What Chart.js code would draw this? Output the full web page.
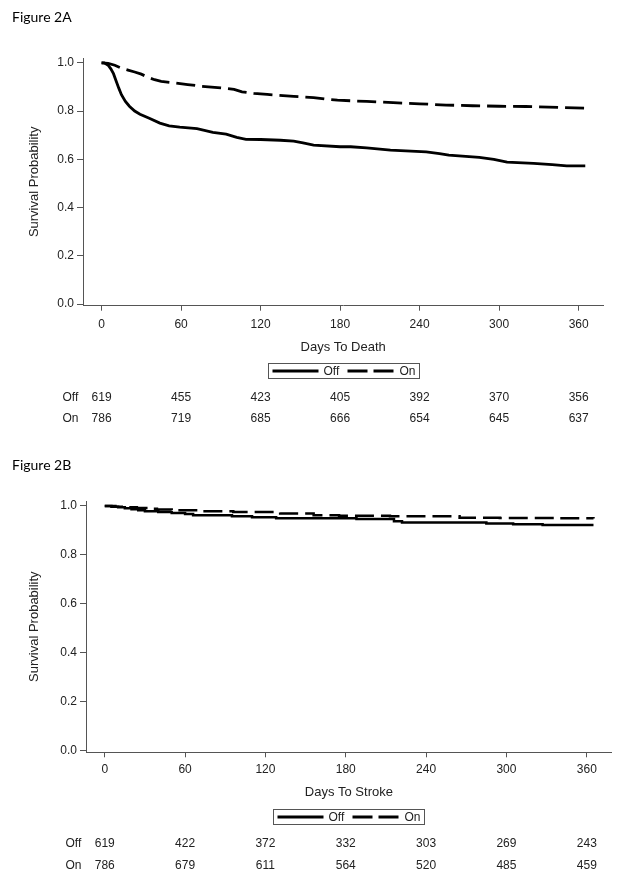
<!DOCTYPE html>
<html>
<head>
<meta charset="utf-8">
<script src="https://cdn.jsdelivr.net/npm/chart.js@4.4.0/dist/chart.umd.min.js"></script>
<style>
  body { margin: 0; background: #fff; }
  #page { position: relative; width: 624px; height: 882px; }
  canvas { position: absolute; left: 0; }
  .fig { position: absolute; left: 12px; font: 14px Lato, sans-serif; color: #000; line-height: 17px; }
</style>
</head>
<body>
<div id="page">
  <canvas id="chartA" width="624" height="441" style="top:0"></canvas>
  <canvas id="chartB" width="624" height="441" style="top:441px"></canvas>
  <div class="fig" style="top:8px">Figure 2A</div>
  <div class="fig" style="top:456px">Figure 2B</div>
</div>
<script>
const dayTicks = [0, 60, 120, 180, 240, 300, 360];
const survTicks = [0, 0.2, 0.4, 0.6, 0.8, 1.0];
const groupNames = ['Off', 'On'];

// Figure 2A - days to death
const deathOffDays = [0, 2, 5, 7, 9, 11, 13, 15, 18, 21, 25, 29, 36, 44, 51, 59, 72, 84, 94, 102, 109, 120, 135, 145, 152, 160, 180, 188, 200, 218, 245, 255, 262, 285, 296, 306, 326, 340, 351, 365];
const deathOffSurv = [1, 1, 0.99, 0.975, 0.955, 0.925, 0.895, 0.868, 0.84, 0.82, 0.80, 0.787, 0.77, 0.75, 0.739, 0.733, 0.727, 0.712, 0.704, 0.691, 0.683, 0.682, 0.679, 0.675, 0.668, 0.659, 0.652, 0.652, 0.647, 0.638, 0.631, 0.624, 0.617, 0.608, 0.60, 0.588, 0.583, 0.578, 0.573, 0.573];
const deathOnDays = [0, 5, 10, 15, 20, 25, 30, 35, 40, 45, 55, 65, 75, 90, 100, 106, 115, 125, 145, 160, 170, 178, 200, 220, 240, 260, 280, 300, 320, 345, 365];
const deathOnSurv = [1, 0.998, 0.99, 0.978, 0.97, 0.962, 0.953, 0.94, 0.93, 0.923, 0.917, 0.91, 0.903, 0.896, 0.89, 0.88, 0.873, 0.869, 0.861, 0.856, 0.849, 0.845, 0.84, 0.835, 0.83, 0.825, 0.822, 0.82, 0.819, 0.815, 0.812];
const deathAtRiskOff = [619, 455, 423, 405, 392, 370, 356];
const deathAtRiskOn = [786, 719, 685, 666, 654, 645, 637];

// Figure 2B - days to stroke
const strokeOffDays = [0, 5, 10, 15, 20, 25, 30, 40, 50, 60, 66, 95, 110, 128, 188, 216, 222, 285, 305, 327, 365];
const strokeOffSurv = [1, 0.997, 0.994, 0.99, 0.986, 0.982, 0.978, 0.975, 0.971, 0.967, 0.962, 0.958, 0.954, 0.95, 0.946, 0.937, 0.932, 0.928, 0.925, 0.922, 0.922];
const strokeOnDays = [0, 8, 16, 24, 32, 39, 50, 71, 96, 131, 156, 175, 213, 265, 295, 340, 365];
const strokeOnSurv = [1, 0.997, 0.994, 0.991, 0.988, 0.985, 0.982, 0.978, 0.975, 0.969, 0.962, 0.96, 0.958, 0.952, 0.951, 0.949, 0.948];
const strokeAtRiskOff = [619, 422, 372, 332, 303, 269, 243];
const strokeAtRiskOn = [786, 679, 611, 564, 520, 485, 459];

const FONT = '"Liberation Sans", Arial, sans-serif';
const AXIS_COLOR = '#555';
const TEXT_COLOR = '#222';

function toPoints(days, surv) {
    return days.map((d, i) => ({ x: d, y: surv[i] }));
}

// legend box + number-at-risk table under the x axis
const riskTable = {
    id: 'riskTable',
    afterDraw(chart, args, opts) {
        const ctx = chart.ctx;
        const area = chart.chartArea;
        const xs = chart.scales.x;
        ctx.save();

        // legend
        const cx = (area.left + area.right) / 2;
        const w = 151, h = 15;
        const left = Math.round(cx - w / 2) + 0.5;
        const top = Math.round(area.bottom + 57) + 0.5;
        ctx.strokeStyle = AXIS_COLOR;
        ctx.lineWidth = 1;
        ctx.strokeRect(left, top, w, h);

        const ly = top + h / 2;
        ctx.strokeStyle = '#000';
        ctx.lineWidth = 3;
        ctx.lineCap = 'butt';
        ctx.beginPath();
        ctx.moveTo(left + 4, ly);
        ctx.lineTo(left + 50, ly);
        ctx.stroke();
        ctx.setLineDash([20, 6]);
        ctx.beginPath();
        ctx.moveTo(left + 79, ly);
        ctx.lineTo(left + 125, ly);
        ctx.stroke();
        ctx.setLineDash([]);

        ctx.fillStyle = TEXT_COLOR;
        ctx.font = '12px ' + FONT;
        ctx.textBaseline = 'middle';
        ctx.textAlign = 'left';
        ctx.fillText(groupNames[0], left + 55, ly + 0.5);
        ctx.fillText(groupNames[1], left + 131, ly + 0.5);

        // number at risk
        const rows = [opts.off, opts.on];
        rows.forEach((vals, r) => {
            const y = area.bottom + opts.rowY[r];
            ctx.textAlign = 'left';
            ctx.fillText(groupNames[r], area.left - 20.5, y);
            ctx.textAlign = 'center';
            vals.forEach((v, i) => {
                ctx.fillText(String(v), xs.getPixelForValue(dayTicks[i]), y);
            });
        });
        ctx.restore();
    }
};

function makeChart(id, s) {
    const ctx = document.getElementById(id).getContext('2d');
    return new Chart(ctx, {
        type: 'line',
        data: {
            datasets: [
                {
                    label: groupNames[0],
                    data: toPoints(s.offDays, s.offSurv),
                    borderColor: '#000',
                    borderWidth: s.lineWidth,
                    stepped: s.stepped,
                    pointRadius: 0,
                    fill: false
                },
                {
                    label: groupNames[1],
                    data: toPoints(s.onDays, s.onSurv),
                    borderColor: '#000',
                    borderWidth: s.lineWidth,
                    borderDash: [19, 7],
                    stepped: s.stepped,
                    pointRadius: 0,
                    fill: false
                }
            ]
        },
        options: {
            responsive: false,
            animation: false,
            devicePixelRatio: 1,
            layout: { padding: s.padding },
            scales: {
                x: {
                    type: 'linear',
                    min: -14,
                    max: 378.6,
                    afterBuildTicks: sc => { sc.ticks = dayTicks.map(v => ({ value: v })); },
                    afterFit: sc => { sc.height = 54; },
                    border: { color: AXIS_COLOR, width: 1 },
                    grid: { drawOnChartArea: false, drawTicks: true, tickLength: 5, color: AXIS_COLOR },
                    ticks: {
                        color: TEXT_COLOR, font: { family: FONT, size: 12 },
                        padding: s.xTickPad, maxRotation: 0, autoSkip: false
                    },
                    title: {
                        display: true, text: s.xTitle, color: TEXT_COLOR,
                        font: { family: FONT, size: 13 },
                        padding: { top: 4, bottom: s.xTitlePad }
                    }
                },
                y: {
                    min: -0.007,
                    max: 1.02,
                    afterBuildTicks: sc => { sc.ticks = survTicks.map(v => ({ value: v })); },
                    afterFit: sc => { sc.width = s.yWidth; },
                    border: { color: AXIS_COLOR, width: 1 },
                    grid: { drawOnChartArea: false, drawTicks: true, tickLength: 6, color: AXIS_COLOR },
                    ticks: {
                        color: TEXT_COLOR, font: { family: FONT, size: 12 },
                        padding: 3, callback: v => Number(v).toFixed(1)
                    },
                    title: {
                        display: true, text: 'Survival Probability', color: TEXT_COLOR,
                        font: { family: FONT, size: 13 },
                        padding: { top: 27, bottom: 0 }
                    }
                }
            },
            plugins: {
                legend: { display: false },
                tooltip: { enabled: false },
                riskTable: { off: s.atRiskOff, on: s.atRiskOn, rowY: s.rowY }
            }
        },
        plugins: [riskTable]
    });
}

makeChart('chartA', {
    offDays: deathOffDays, offSurv: deathOffSurv,
    onDays: deathOnDays, onSurv: deathOnSurv,
    atRiskOff: deathAtRiskOff, atRiskOn: deathAtRiskOn,
    xTitle: 'Days To Death',
    stepped: false,
    lineWidth: 2.8,
    yWidth: 83,
    padding: { left: 0, right: 20.7, top: 58, bottom: 81.3 },
    xTickPad: 6.4,
    xTitlePad: 4.6,
    rowY: [91.6, 112.6]
});

makeChart('chartB', {
    offDays: strokeOffDays, offSurv: strokeOffSurv,
    onDays: strokeOnDays, onSurv: strokeOnSurv,
    atRiskOff: strokeAtRiskOff, atRiskOn: strokeAtRiskOn,
    xTitle: 'Days To Stroke',
    stepped: 'before',
    lineWidth: 2.5,
    yWidth: 86,
    padding: { left: 0, right: 12.3, top: 60, bottom: 75.7 },
    xTickPad: 5.5,
    xTitlePad: 5.8,
    rowY: [91.7, 113.4]
});
</script>
</body>
</html>
